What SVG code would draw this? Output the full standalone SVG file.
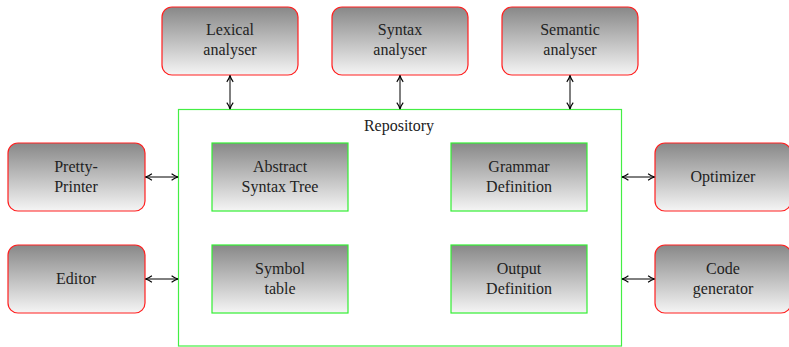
<svg xmlns="http://www.w3.org/2000/svg" width="789" height="347" viewBox="0 0 789 347">
<style>
.tool{stroke:#ff2020;stroke-width:1.2;fill:url(#g)}
.data{stroke:#33ee33;stroke-width:1.2;fill:url(#g)}
.repo{stroke:#44ee44;stroke-width:1.2;fill:none}
text{font-family:"Liberation Serif","DejaVu Serif",serif;font-size:16px;fill:#222;text-anchor:middle}
.c{stroke:#000;stroke-width:1;fill:none;marker-start:url(#a);marker-end:url(#a)}
</style>
<defs>
<linearGradient id="g" x1="0" y1="0" x2="0" y2="1">
<stop offset="0" stop-color="#888"/>
<stop offset="1" stop-color="#f5f5f5"/>
</linearGradient>
<marker id="a" viewBox="0 0 10 10" refX="9" refY="5" markerWidth="8" markerHeight="8" orient="auto-start-reverse" markerUnits="userSpaceOnUse">
<path d="M1,1 Q5,4 9,5 Q5,6 1,9" fill="none" stroke="#000" stroke-width="1.4"/>
</marker>
</defs>
<g id="repository"><rect class="repo" x="178.5" y="109.5" width="443" height="236.5"/><text x="399" y="131">Repository</text></g>
<g id="lexical"><rect class="tool" x="162" y="7" width="136" height="68" rx="10"/><text x="230" y="35">Lexical</text><text x="230" y="55">analyser</text></g>
<g id="syntax"><rect class="tool" x="332" y="7" width="136" height="68" rx="10"/><text x="400" y="35">Syntax</text><text x="400" y="55">analyser</text></g>
<g id="semantic"><rect class="tool" x="502" y="7" width="136" height="68" rx="10"/><text x="570" y="35">Semantic</text><text x="570" y="55">analyser</text></g>
<g id="pretty"><rect class="tool" x="8" y="143" width="137" height="68" rx="10"/><text x="76" y="172">Pretty-</text><text x="76" y="192">Printer</text></g>
<g id="editor"><rect class="tool" x="8" y="245" width="137" height="68" rx="10"/><text x="76" y="284">Editor</text></g>
<g id="optimizer"><rect class="tool" x="655" y="143" width="136" height="68" rx="10"/><text x="723" y="182">Optimizer</text></g>
<g id="codegen"><rect class="tool" x="655" y="245" width="136" height="68" rx="10"/><text x="723" y="274">Code</text><text x="723" y="294">generator</text></g>
<g id="ast"><rect class="data" x="212" y="143" width="136" height="68"/><text x="280" y="172">Abstract</text><text x="280" y="192">Syntax Tree</text></g>
<g id="grammar"><rect class="data" x="451" y="143" width="136" height="68"/><text x="519" y="172">Grammar</text><text x="519" y="192">Definition</text></g>
<g id="symbol"><rect class="data" x="212" y="245" width="136" height="68"/><text x="280" y="274">Symbol</text><text x="280" y="294">table</text></g>
<g id="output"><rect class="data" x="451" y="245" width="136" height="68"/><text x="519" y="274">Output</text><text x="519" y="294">Definition</text></g>
<g id="connectors">
<path class="c" d="M230,75.5 V109"/>
<path class="c" d="M400,75.5 V109"/>
<path class="c" d="M570,75.5 V109"/>
<path class="c" d="M145.5,177 H178"/>
<path class="c" d="M145.5,279 H178"/>
<path class="c" d="M622,177 H654.5"/>
<path class="c" d="M622,279 H654.5"/>
</g>
</svg>
